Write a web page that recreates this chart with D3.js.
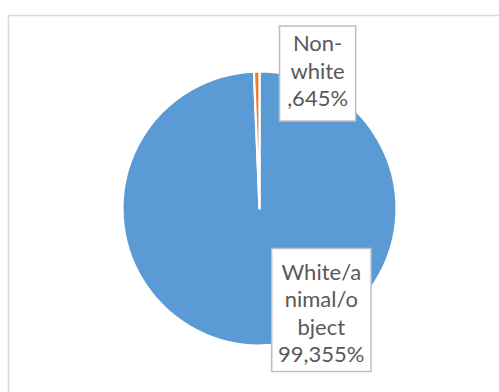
<!DOCTYPE html>
<html><head><meta charset="utf-8">
<script src="https://cdn.jsdelivr.net/npm/d3@7"></script>
<style>body{margin:0;background:#fff}svg{display:block}</style>
</head><body>
<script>
const categories = ["White/animal/object", "Non-white"];
const values = [99.355, 0.645];
const colors = ["#5b9bd5", "#ed7d31"];
const labelLines = [["White/a", "nimal/o", "bject", "99,355%"], ["Non-", "white", ",645%"]];

const W = 499, H = 392;
const svg = d3.select("body").append("svg").attr("width", W).attr("height", H);
svg.append("rect").attr("x", 8.5).attr("y", 15.5).attr("width", 520).attr("height", 420)
  .attr("fill", "#fff").attr("stroke", "#d9d9d9").attr("stroke-width", 1.5);

const cx = 259.5, cy = 208.5, R = 137;
const pie = d3.pie().sort(null).value(d => d)(values);
const arc = d3.arc().innerRadius(0).outerRadius(R);
const g = svg.append("g").attr("transform", `translate(${cx},${cy})`);
g.selectAll("path").data(pie).join("path")
  .attr("d", arc).attr("fill", (d, i) => colors[i])
  .attr("stroke", "#fff").attr("stroke-width", 2.2).attr("stroke-linejoin", "round");

// label boxes: [x, y, w, h, centerX, firstBaseline]
const boxes = [[271.7, 248.5, 99.3, 123, 321.3, 279.5], [279.5, 26, 76.2, 95, 317.6, 51]];
const lh = 27.5;
boxes.forEach((b, i) => {
  svg.append("rect").attr("x", b[0]).attr("y", b[1]).attr("width", b[2]).attr("height", b[3])
    .attr("fill", "#fff").attr("stroke", "#bfbfbf").attr("stroke-width", 1.5);
  const t = svg.append("text").attr("font-family", "Lato, 'Open Sans', sans-serif")
    .attr("font-size", 22).attr("fill", "#595959").attr("text-anchor", "middle");
  labelLines[i].forEach((s, j) => t.append("tspan").attr("x", b[4]).attr("y", b[5] + j * lh).text(s));
});
</script>
</body></html>
